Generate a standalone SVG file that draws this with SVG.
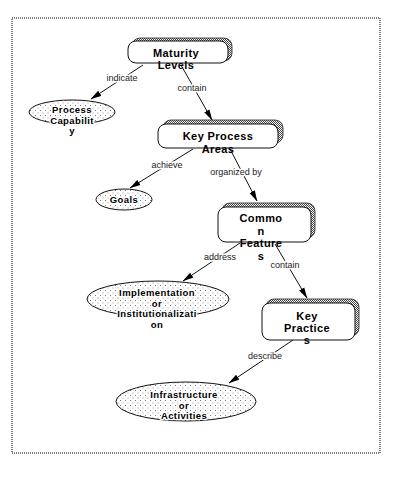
<svg xmlns="http://www.w3.org/2000/svg" width="404" height="484" viewBox="0 0 404 484">
<defs>
<pattern id="dots" width="5" height="5" patternUnits="userSpaceOnUse">
<rect width="5" height="5" fill="#fff"/>
<rect x="0" y="0" width="1" height="1" fill="#777"/>
<rect x="2.5" y="2.5" width="1" height="1" fill="#999"/>
</pattern>
<pattern id="checker" width="2" height="2" patternUnits="userSpaceOnUse">
<rect width="2" height="2" fill="#fff"/>
<rect width="1" height="1" fill="#444"/>
<rect x="1" y="1" width="1" height="1" fill="#444"/>
</pattern>
<marker id="arr" markerWidth="11" markerHeight="7" refX="10.5" refY="3.5" orient="auto" markerUnits="userSpaceOnUse">
<path d="M0,0.5 L11,3.5 L0,6.5 Z" fill="#000"/>
</marker>
<style>
.frame{fill:none;stroke:#555;stroke-width:1.5;stroke-dasharray:1 1}
.shadow{fill:url(#checker);stroke:#222;stroke-width:0.8}
.box{fill:#fff;stroke:#111;stroke-width:1}
.ell{fill:url(#dots);stroke:#111;stroke-width:1}
.bt{font-family:"Liberation Sans",Arial,sans-serif;font-weight:bold;font-size:11px;letter-spacing:0.4px;fill:#000;text-anchor:middle}
.et{font-family:"Liberation Sans",Arial,sans-serif;font-weight:bold;font-size:9.5px;letter-spacing:0.4px;fill:#000;text-anchor:middle;stroke:#fff;stroke-width:2.5;paint-order:stroke;stroke-linejoin:round}
.edge{stroke:#111;stroke-width:1;fill:none;marker-end:url(#arr)}
.lbl{font-family:"Liberation Sans",Arial,sans-serif;font-size:9px;fill:#222;text-anchor:middle;stroke:#fff;stroke-width:3;paint-order:stroke;stroke-linejoin:round}
</style>
</defs>
<rect width="404" height="484" fill="#fff"/>
<rect class="frame" x="12" y="18" width="368" height="435"/>

<g id="connectors">
<line class="edge" x1="143" y1="65" x2="91" y2="99"/>
<line class="edge" x1="181" y1="65" x2="212" y2="120"/>
<line class="edge" x1="193" y1="149" x2="130" y2="188"/>
<line class="edge" x1="230" y1="149" x2="257" y2="201"/>
<line class="edge" x1="240" y1="243" x2="183" y2="281"/>
<line class="edge" x1="275" y1="244" x2="307" y2="298"/>
<line class="edge" x1="293" y1="340" x2="229" y2="383"/>
<text class="lbl" x="122" y="81">indicate</text>
<text class="lbl" x="192" y="91">contain</text>
<text class="lbl" x="167" y="168">achieve</text>
<text class="lbl" x="236" y="175">organized by</text>
<text class="lbl" x="220" y="260">address</text>
<text class="lbl" x="285" y="268">contain</text>
<text class="lbl" x="265" y="359">describe</text>
</g>

<g id="maturity-levels">
<rect class="shadow" x="132" y="38" width="100" height="23" rx="8"/>
<rect class="box" x="128" y="41" width="100" height="22" rx="8"/>
<text class="bt" x="176" y="57">Maturity</text>
<text class="bt" x="176" y="69">Levels</text>
</g>

<g id="process-capability">
<ellipse class="ell" cx="72" cy="112" rx="43" ry="12"/>
<text class="et" x="72" y="113">Process</text>
<text class="et" x="72" y="123.5">Capabilit</text>
<text class="et" x="72" y="134">y</text>
</g>

<g id="key-process-areas">
<rect class="shadow" x="163" y="120" width="120" height="23" rx="8"/>
<rect class="box" x="158" y="124" width="120" height="24" rx="8"/>
<text class="bt" x="218" y="140">Key Process</text>
<text class="bt" x="218" y="152.5">Areas</text>
</g>

<g id="goals">
<ellipse class="ell" cx="124" cy="199.5" rx="28" ry="10.5"/>
<text class="et" x="124" y="203">Goals</text>
</g>

<g id="common-features">
<rect class="shadow" x="222" y="203" width="93" height="35" rx="8"/>
<rect class="box" x="218" y="207" width="93" height="35" rx="8"/>
<text class="bt" x="261" y="222">Commo</text>
<text class="bt" x="261" y="234.5">n</text>
<text class="bt" x="261" y="247">Feature</text>
<text class="bt" x="261" y="259.5">s</text>
</g>

<g id="implementation">
<ellipse class="ell" cx="158" cy="299" rx="71" ry="18"/>
<text class="et" x="157" y="296">Implementation</text>
<text class="et" x="157" y="306.5">or</text>
<text class="et" x="157" y="317">Institutionalizati</text>
<text class="et" x="157" y="328">on</text>
</g>

<g id="key-practices">
<rect class="shadow" x="266" y="299" width="93" height="37" rx="8"/>
<rect class="box" x="262" y="303" width="93" height="37" rx="8"/>
<text class="bt" x="307" y="320">Key</text>
<text class="bt" x="307" y="332">Practice</text>
<text class="bt" x="307" y="344">s</text>
</g>

<g id="infrastructure">
<ellipse class="ell" cx="186" cy="401.5" rx="70" ry="19.5"/>
<text class="et" x="184" y="398">Infrastructure</text>
<text class="et" x="184" y="408.5">or</text>
<text class="et" x="184" y="419">Activities</text>
</g>
</svg>
